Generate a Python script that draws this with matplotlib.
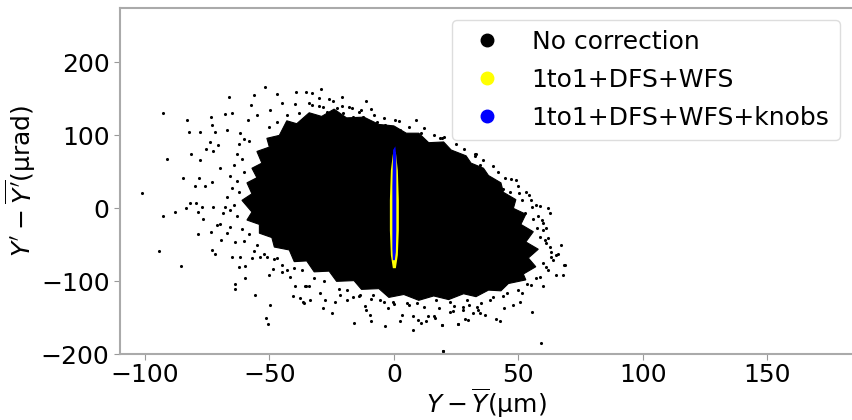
"""
Y 方向相空间分布：校正前后对比
"""
import matplotlib
matplotlib.use('Agg')
import matplotlib.pyplot as plt
from matplotlib.lines import Line2D

plt.rcParams['font.family'] = ['DejaVu Sans']
plt.rcParams['mathtext.fontset'] = 'dejavusans'

# ============================================================
# 1. 数据
# ============================================================
# 未校正：致密核心区域的轮廓 (μm, μrad)
core_y = [-53, -50.6, -45.8, -39.8, -31.7, -21.7, -9.6, -0.8, 10.4, 20.5, 30.5,
          40.6, 46.6, 50.6, 51.4, 46.6, 38.6, 28.5, 18.5, 6.4, -3.6, -15.7,
          -27.7, -37.8, -45.8, -51.4]
core_yp = [18, 52, 80, 100, 107, 107, 103, 94, 82, 69, 50,
           18, -9, -43, -74, -91, -101, -108, -112, -108, -98, -85,
           -68, -50, -33, -9]

# 未校正：核心外围较密的毛边区域（锯齿轮廓）
fringe_y = [-61, -57, -59, -55, -57, -53, -55, -50, -51, -46, -43, -39, -34, -29,
            -24, -19, -12, -6, 0, 5, 10, 14, 20, 23, 29, 31, 36, 38, 43, 44,
            49, 48, 53, 51, 56, 53, 58, 54, 57, 52, 53, 46, 43, 38, 33, 28,
            22, 16, 10, 4, -2, -6, -13, -16, -23, -26, -32, -35, -40, -42,
            -48, -49, -54, -54, -59, -57]
fringe_yp = [11, 20, 35, 42, 55, 62, 78, 84, 96, 100, 120, 116, 131, 126,
             136, 124, 125, 115, 113, 103, 103, 90, 91, 80, 72, 62, 55, 45,
             35, 22, 12, 0, -8, -22, -32, -46, -56, -68, -80, -90, -98, -103,
             -113, -112, -121, -117, -125, -120, -126, -118, -122, -110, -111,
             -99, -100, -86, -87, -72, -73, -57, -53, -40, -34, -22, -16, -5]

# 未校正：核心外的离散粒子
halo_y = [-92.9, -83, -82.2, -77.9, -73.5, -66.1, -67.9, -64.9, -56.2, -51.8,
          -47.1, -39.1, -35.3, -57.4, -91.3, -81.5, -77.9, -84.6, -78.3, -101,
          -92.7, -88, -81.9, -73.2, -71.9, -73.9, -75.5, -70.6, -72.6, -75.9,
          -79.9, -73.2, -69.9, -67.2, -61.8, -58.5, -55.1, -49.8, -45.1, -39.8,
          -77.2, -67.9,
          -83.5, -79.5, -78.8, -76.6, -73.6, -78.7, -94.3, -85.5, -73.2, -71.9,
          -69.5, -67.2, -65.9, -63.6, -62.2, -59.6, -59.6, -63.6, -63.6, -55.8,
          -49.8, -51.4, -50.7, -40.7, -37.8, -36.1, -39.8, -45.1, -48.5, -50.2,
          -65.2, -61.8, -57.1, -53.8, -51.1, -47.1, -41.8, -35.1, -69.9, -68.6,
          -72.6, -71.2,
          -32.7, -29.3, -30, -32.7, -24.4, -21, -18.1, -11.2, -9, -13, 0.4, 8.8,
          11.1, 18.5, 27.8, 32.5, -28.4, -27, -23, -20.4, -16.3, -12.3, -6.9,
          -3.6, 2.4, 5.1, 13.1, 15.8, 22.5, 25.2, 30.5,
          -35.7, -34, -36.4, -33.5, -28.6, -24.8, -27.7, -23.7, -19, -15.9,
          -11.6, -11, -9.6, -9, -3.6, -2.3, 2.4, 3.1, 7.8, 7.8, 9.8, 11.1, 13.1,
          13.8, 16.5, 19.2, 19.8, 23.8, 25.8, 27.8, 28.5, 31.8, 33.9, -29.7,
          -21.7, -16.3, -5.6, -0.3, 5.1, 9.1, 17.1, 22.5, 29.2, -13.7, -8.3,
          19.2, 28.5, 32.5, 34.5, 44.6, 49, 46.6, 50.3, 54.4, 51.3, 55.3, 58.6,
          62, 62.7, 59.3, 61.3, 67.3, 65.3, 68.7, 58.6, 62.7, 41.2, 43.9, 47.9,
          52.6, 55.9, 57.3, 60.6, 63.3,
          66, 68.4, 65.1, 68, 59.7, 55.3, 58.9, 19.6, 19.2, 25.8, 29.8, 34.5,
          36.5, 41.2, 42.8, 44.2, 47.9, 50.6, 53.3, 51.3, 16.1, 22.5, 27.8,
          33.2, 38.6, 45.3, 58.6, 61.3, 64]
halo_yp = [130, 121, 104, 105, 125, 153, 129, 131, 155, 166,
           157, 159, 160, 142, 67, 74, 66, 42, 42, 21,
           -11, -5, 7, 114, 104, 91, 82, 87, 78, 30,
           30, 36, 55, 107, 103, 121, 128, 135, 144, 143,
           2, 2,
           1, 8, -5, -14, -33, -35, -59, -79, -57, -63,
           -43, -34, -25, -46, -80, -79, -96, -104, -111, -119,
           -132, -150, -159, -120, -123, -129, -107, -87, -83, -91,
           -66, -66, -68, -66, -66, -68, -94, -106, -21, -7,
           2, -23,
           158, 163, 151, 142, 147, 152, 139, 147, 136, 135, 121, 121,
           103, 96, 70, 72, 139, 132, 137, 130, 125, 125, 119,
           114, 107, 100, 89, 82, 73, 64, 55,
           -106, -106, -128, -126, -136, -144, -126, -128, -126, -157,
           -134, -139, -146, -155, -161, -137, -155, -146, -166, -148, -153, -157, -155,
           -148, -150, -160, -195, -140, -158, -135, -151, -144, -139, -116,
           -119, -121, -126, -128, -130, -130, -126, -128, -126, -119, -119,
           97, 71, 74, 59, 42, 39, 23, 21, 18, 11, 2, 3,
           1, -7, -16, -27, -50, -64, -78, -39, -53, 34, 27, 11,
           -7, -14, -27, -43, -66,
           -63, -78, -91, -91, -107, -142, -185, -195, -160, -158, -153, -144,
           -146, -151, -154, -137, -132, -128, -103, -116, -148, -142, -139,
           -135, -126, -116, -94, -80, -71]

# 未校正：毛边与离散粒子之间的过渡带粒子
band_y = [-60, -62, -58, -63, -61, -64, -60, -66, -63, -65, -62, -67, -64, -66,
          -63, -61, -58, -60, -55, -56, -52, -48, -45, -43,
          -50, -47, -43, -38, -34, -30, -26, -21, -17, -14, -8, -4, 2, 6, 12,
          16, 20, 25, 28, 33, 36, 40, 42,
          47, 50, 53, 55, 57, 58, 60, 60, 62, 61, 63, 60, 62, 57, 55,
          50, 44, 40, 35, 30, 24, 18, 12, 6, 0, -4, -9, -14, -19, -22, -28,
          -32, -37, -40]
band_yp = [95, 88, 92, 75, 68, 60, 50, 45, 38, 28, 22, 15, 5, -2,
           -10, -28, -35, -45, -50, -58, -62, -70, -78, -85,
           112, 118, 128, 130, 145, 140, 150, 140, 138, 132, 128, 124, 120,
           112, 110, 100, 98, 88, 82, 74, 66, 58, 50,
           40, 30, 22, 12, 5, -10, -20, -30, -40, -48, -60, -75, -85, -95,
           -105,
           -112, -120, -122, -130, -132, -134, -136, -135, -133, -131, -128,
           -124, -120, -112, -110, -100, -96, -85, -82]

# 1to1+DFS+WFS：窄条轮廓
dfs_y = [0.8, 1.6, 2.0, 2.0, 1.6, 0.8, -0.4, -1.2, -1.6, -1.6, -1.2, -0.4]
dfs_yp = [77, 52, 11, -30, -64, -82, -82, -64, -30, 11, 52, 74]

# 1to1+DFS+WFS+knobs：窄条轮廓
knob_y = [0.6, 1.0, 1.0, 1.0, 0.8, 0.4, -0.4, -0.6, -0.6, -0.6, -0.3]
knob_yp = [85, 70, 20, -30, -60, -71, -71, -55, -20, 30, 80]

labels = ['No correction', '1to1+DFS+WFS', '1to1+DFS+WFS+knobs']
colors = ['black', 'yellow', 'blue']

# ============================================================
# 2. 画图
# ============================================================
fig = plt.figure(figsize=(8.52, 4.2), dpi=100)
ax = fig.add_axes([0.1408, 0.1564, 0.8592, 0.8253])

ax.fill(fringe_y, fringe_yp, color='black', lw=0.8, zorder=2)
ax.fill(core_y, core_yp, color='black', lw=0, zorder=2)
ax.scatter(halo_y, halo_yp, s=5, c='black', linewidths=0, zorder=2)
ax.scatter(band_y, band_yp, s=5, c='black', linewidths=0, zorder=2)
ax.fill(dfs_y, dfs_yp, color='yellow', lw=0, zorder=3)
ax.fill(knob_y, knob_yp, color='blue', lw=0, zorder=4)

ax.set_xlim(-110, 184)
ax.set_ylim(-200, 275)
ax.set_xticks([-100, -50, 0, 50, 100, 150])
ax.set_yticks([-200, -100, 0, 100, 200])
ax.tick_params(labelsize=18, color='#999999', length=4)
ax.tick_params(axis='x', pad=2)

for side in ['left', 'bottom', 'top']:
    ax.spines[side].set_color('#aaaaaa')
    ax.spines[side].set_linewidth(1.5)
ax.spines['right'].set_visible(False)

ax.set_xlabel(r'$Y-\overline{Y}$(μm)', fontsize=18, labelpad=0)
ax.set_ylabel(r"$Y'-\overline{Y'}$(μrad)", fontsize=18, labelpad=2)

handles = [Line2D([], [], ls='none', marker='o', markersize=9,
                  markerfacecolor=c, markeredgecolor=c) for c in colors]
ax.legend(handles, labels, loc='upper right', fontsize=18, labelspacing=0.55,
          fancybox=True, edgecolor='#dddddd', framealpha=1)

fig.savefig('out.png', dpi=100)
plt.close(fig)
